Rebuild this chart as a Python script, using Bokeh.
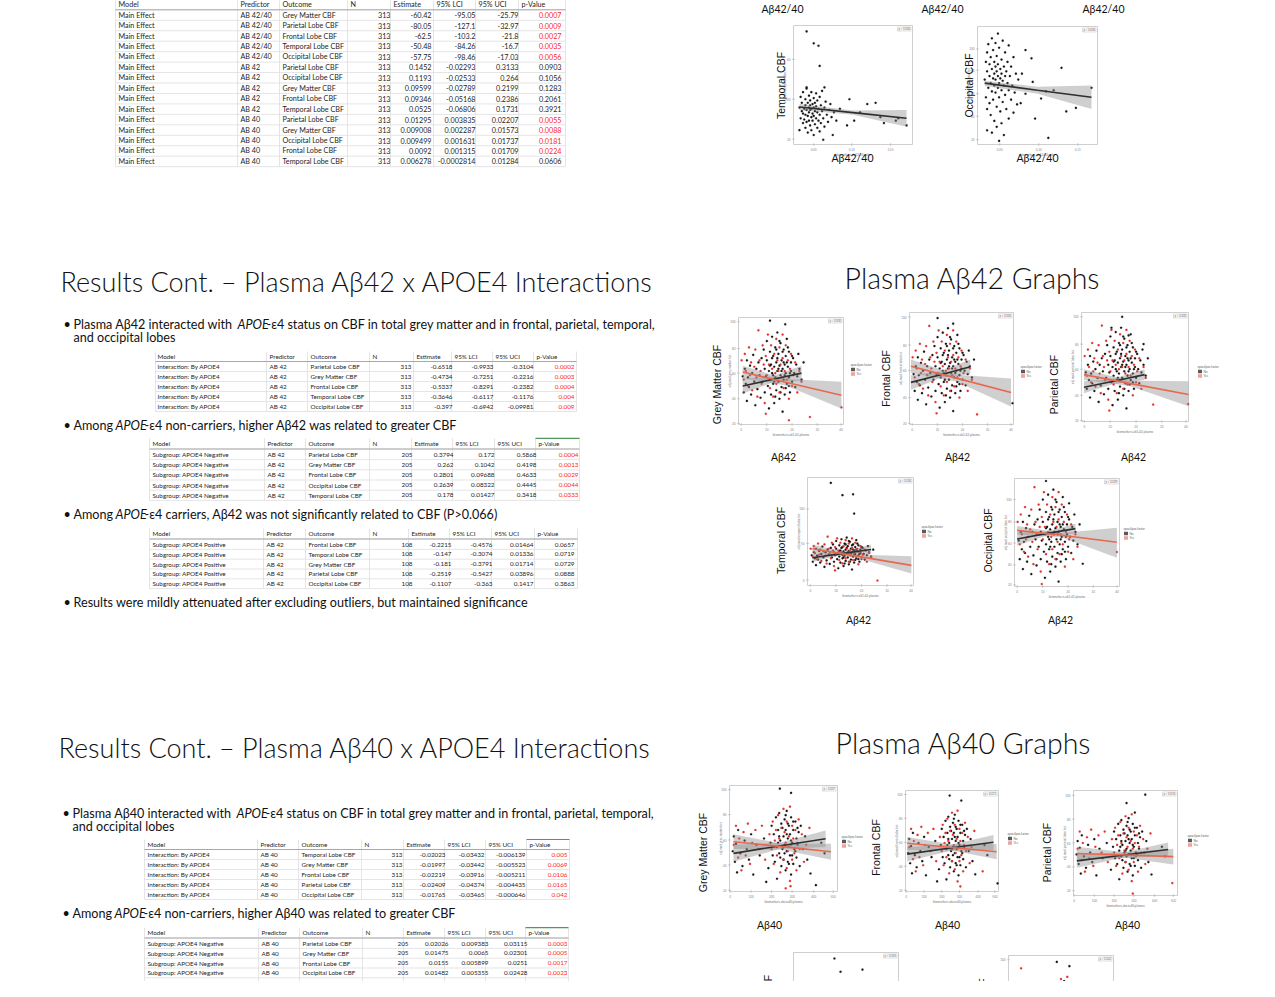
import math
from bokeh.plotting import figure
from bokeh.models import Range1d, ColumnDataSource
from bokeh.core.properties import value
from bokeh.embed import file_html
from bokeh.resources import INLINE

# ===================== TABLE DATA =====================
HEADERS = ["Model", "Predictor", "Outcome", "N", "Estimate", "95% LCI", "95% UCI", "p-Value"]

t1_model = ["Main Effect"] * 15
t1_pred = ["AB 42/40"] * 5 + ["AB 42"] * 5 + ["AB 40"] * 5
t1_outcome = ["Grey Matter CBF", "Parietal Lobe CBF", "Frontal Lobe CBF", "Temporal Lobe CBF", "Occipital Lobe CBF",
              "Parietal Lobe CBF", "Occipital Lobe CBF", "Grey Matter CBF", "Frontal Lobe CBF", "Temporal Lobe CBF",
              "Parietal Lobe CBF", "Grey Matter CBF", "Occipital Lobe CBF", "Frontal Lobe CBF", "Temporal Lobe CBF"]
t1_n = ["313"] * 15
t1_est = ["-60.42", "-80.05", "-62.5", "-50.48", "-57.75", "0.1452", "0.1193", "0.09599", "0.09346", "0.0525",
          "0.01295", "0.009008", "0.009499", "0.0092", "0.006278"]
t1_lci = ["-95.05", "-127.1", "-103.2", "-84.26", "-98.46", "-0.02293", "-0.02533", "-0.02789", "-0.05168", "-0.06806",
          "0.003835", "0.002287", "0.001631", "0.001315", "-0.0002814"]
t1_uci = ["-25.79", "-32.97", "-21.8", "-16.7", "-17.03", "0.3133", "0.264", "0.2199", "0.2386", "0.1731",
          "0.02207", "0.01573", "0.01737", "0.01709", "0.01284"]
t1_p = ["0.0007", "0.0009", "0.0027", "0.0035", "0.0056", "0.0903", "0.1056", "0.1283", "0.2061", "0.3921",
        "0.0055", "0.0088", "0.0181", "0.0224", "0.0606"]

t2_model = ["Interaction: By APOE4"] * 5
t2_pred = ["AB 42"] * 5
t2_outcome = ["Parietal Lobe CBF", "Grey Matter CBF", "Frontal Lobe CBF", "Temporal Lobe CBF", "Occipital Lobe CBF"]
t2_n = ["313"] * 5
t2_est = ["-0.6518", "-0.4734", "-0.5337", "-0.3646", "-0.397"]
t2_lci = ["-0.9933", "-0.7251", "-0.8291", "-0.6117", "-0.6942"]
t2_uci = ["-0.3104", "-0.2216", "-0.2382", "-0.1176", "-0.09981"]
t2_p = ["0.0002", "0.0003", "0.0004", "0.004", "0.009"]

t3_model = ["Subgroup: APOE4 Negative"] * 5
t3_pred = ["AB 42"] * 5
t3_outcome = ["Parietal Lobe CBF", "Grey Matter CBF", "Frontal Lobe CBF", "Occipital Lobe CBF", "Temporal Lobe CBF"]
t3_n = ["205"] * 5
t3_est = ["0.3794", "0.262", "0.2801", "0.2639", "0.178"]
t3_lci = ["0.172", "0.1042", "0.09688", "0.08322", "0.01427"]
t3_uci = ["0.5868", "0.4198", "0.4633", "0.4445", "0.3418"]
t3_p = ["0.0004", "0.0013", "0.0029", "0.0044", "0.0333"]

t4_model = ["Subgroup: APOE4 Positive"] * 5
t4_pred = ["AB 42"] * 5
t4_outcome = ["Frontal Lobe CBF", "Temporal Lobe CBF", "Grey Matter CBF", "Parietal Lobe CBF", "Occipital Lobe CBF"]
t4_n = ["108"] * 5
t4_est = ["-0.2215", "-0.147", "-0.181", "-0.2519", "-0.1107"]
t4_lci = ["-0.4576", "-0.3074", "-0.3791", "-0.5427", "-0.363"]
t4_uci = ["0.01464", "0.01336", "0.01714", "0.03896", "0.1417"]
t4_p = ["0.0657", "0.0719", "0.0729", "0.0888", "0.3863"]

t5_model = ["Interaction: By APOE4"] * 5
t5_pred = ["AB 40"] * 5
t5_outcome = ["Temporal Lobe CBF", "Grey Matter CBF", "Frontal Lobe CBF", "Parietal Lobe CBF", "Occipital Lobe CBF"]
t5_n = ["313"] * 5
t5_est = ["-0.02023", "-0.01997", "-0.02219", "-0.02409", "-0.01765"]
t5_lci = ["-0.03432", "-0.03442", "-0.03916", "-0.04374", "-0.03465"]
t5_uci = ["-0.006139", "-0.005523", "-0.005211", "-0.004435", "-0.000646"]
t5_p = ["0.005", "0.0069", "0.0106", "0.0165", "0.042"]

t6_model = ["Subgroup: APOE4 Negative"] * 5
t6_pred = ["AB 40"] * 5
t6_outcome = ["Parietal Lobe CBF", "Grey Matter CBF", "Frontal Lobe CBF", "Occipital Lobe CBF", "Temporal Lobe CBF"]
t6_n = ["205"] * 5
t6_est = ["0.02026", "0.01475", "0.0155", "0.01482", "0.01198"]
t6_lci = ["0.009383", "0.0065", "0.005899", "0.005355", "0.003446"]
t6_uci = ["0.03115", "0.02301", "0.0251", "0.02428", "0.02052"]
t6_p = ["0.0003", "0.0005", "0.0017", "0.0023", "0.0062"]

# ===================== SCATTER DATA (axis units: % of panel range) =====================
# Abeta42/40 - temporal
ta_x = [5,6,6,7,7,8,8,8,9,9,10,10,10,10,11,11,11,12,12,12,13,13,13,13,14,14,14,14,15,15,15,15,16,16,16,17,17,17,17,
        18,18,18,19,19,19,20,20,20,21,21,22,22,22,23,23,24,24,25,25,26,26,27,28,29,30,31,32,33,34,36,39,45,47,51,56,
        62,69,73,76,95,11,17,21,22,11,26,5,86,88]
ta_y = [31,22,40,28,35,18,26,44,30,21,33,14,38,25,29,19,47,35,24,10,31,27,20,41,33,16,29,37,23,30,12,44,26,34,20,31,8,39,24,
        28,17,35,22,32,43,27,14,37,30,20,25,40,11,33,18,28,45,22,4,31,15,36,25,19,29,34,23,8,27,20,30,16,38,20,27,
        34,35,23,18,16,95,85,83,66,48,48,12,20,22]
# Abeta42/40 - occipital
oa_x = [6,7,7,8,8,8,9,9,10,10,10,11,11,11,12,12,12,13,13,13,14,14,14,14,15,15,15,15,16,16,16,17,17,17,17,18,18,18,
        19,19,19,20,20,20,21,21,21,22,22,23,23,23,24,24,25,25,26,26,27,28,28,29,30,31,32,33,34,8,12,16,20,22,26,30,18,
        45,70,48,59,53,74,82,95,63.5,57,40,46,37,36,40]
oa_y = [55,70,40,62,30,78,48,85,58,35,68,52,25,74,64,45,90,56,38,80,60,50,70,20,66,44,86,55,62,32,75,58,48,94,68,52,40,82,
        64,56,28,72,46,60,54,88,36,66,50,58,42,78,62,30,52,70,46,84,58,38,66,50,74,44,60,34,55,12,10,15,18,8,22,27,3,
        73,65,22,5.6,39,28,31,48,46,45,43,53,60,35,80]

# Abeta42 - APOE4 No (black) / Yes (red)
a42_no_x = [4,5,6,7,8,8,9,10,11,12,13,14,15,16,17,18,19,20,21,22,23,24,25,25,26,27,27,28,29,29,30,30,31,31,32,32,33,33,
            34,34,35,35,36,36,37,37,38,38,39,39,40,40,41,41,42,42,43,43,44,44,45,45,46,46,47,48,48,49,50,50,51,52,53,54,
            55,56,57,58,60,62,30,32,34,36,38,40,42,44,46,48,33,37,41,45,47,35,39,43,49,51]
a42_no_y = [45,30,52,38,60,22,44,35,55,28,48,65,40,18,52,33,58,46,25,62,40,70,52,30,45,78,60,36,50,15,68,42,56,28,82,48,38,64,
            54,20,72,44,58,32,86,50,40,66,24,55,76,46,60,35,52,12,70,42,56,28,64,48,38,80,54,44,68,30,58,50,40,62,48,35,
            56,45,66,52,42,58,55,62,40,70,52,30,68,46,58,36,46,62,50,34,72,26,78,58,48,64]
a42_yes_x = [3,5,6,7,9,10,11,12,13,15,16,17,18,20,21,22,23,24,25,26,27,28,29,30,31,32,33,34,35,36,36,37,38,39,39,40,41,
             42,42,43,44,45,46,47,48,49,50,51,52,54,56,58,60,26,19]
a42_yes_y = [60,42,66,50,36,72,46,58,32,54,70,44,26,60,50,38,74,56,20,64,46,84,56,34,74,52,26,66,48,80,38,60,50,72,30,56,44,
             84,62,34,50,74,42,60,24,52,66,36,46,58,30,50,40,10,88]
# panel specific outliers (axis units of each panel)
gm42_out_no_x, gm42_out_no_y = [30, 44.5], [97, 93.6]
gm42_out_yes_x, gm42_out_yes_y = [98, 68, 48], [16, 7, 4]
fr42_out_no_x, fr42_out_no_y = [27, 42, 99], [95, 90, 19]
fr42_out_yes_x, fr42_out_yes_y = [65], [9]
pa42_out_no_x, pa42_out_no_y = [38, 28, 44, 58], [96, 86, 79, 71]
pa42_out_yes_x, pa42_out_yes_y = [67, 99.7], [15.5, 16]
te42_out_no_x, te42_out_no_y = [22, 33, 43, 44], [212.5, 184, 186, 141.5]
te42_out_yes_x, te42_out_yes_y = [66], [-13.5]
oc42_out_no_x, oc42_out_no_y = [65, 52, 30], [26.3, 75, 93]
oc42_out_yes_x, oc42_out_yes_y = [97.5], [35.8]

# Abeta40 - APOE4 No (black) / Yes (red)
a40_no_x = [3,4,5,6,7,8,10,12,14,16,18,20,22,25,28,32,36,38,39,40,41,42,43,44,44,45,46,46,47,48,48,49,50,50,51,51,52,52,
            53,53,54,54,55,55,56,56,57,57,58,59,59,60,61,62,62,63,64,65,66,68,70,72,75,85,88,45,47,49,51,53,55,57,59,61,
            63,50,54,58,46,52]
a40_no_y = [38,52,28,45,18,58,36,24,48,40,30,54,16,44,34,50,22,46,62,34,54,28,70,42,12,58,36,74,48,24,64,40,52,30,68,44,20,58,
            38,76,50,28,62,42,34,54,16,70,46,58,26,40,66,50,32,44,56,24,62,40,52,30,17,46,36,46,32,60,36,54,26,48,66,38,
            60,42,64,34,52,72]
a40_yes_x = [4,6,8,9,11,13,15,17,19,21,24,27,30,33,37,39,40,41,42,43,44,45,46,47,48,49,50,50,51,52,53,53,54,55,56,56,57,
             58,58,59,60,61,62,63,64,65,67,69,71,74]
a40_yes_y = [44,62,32,50,20,56,34,64,26,46,58,40,62,30,54,40,66,26,48,58,34,72,50,18,60,42,78,30,56,46,66,22,38,52,80,10,44,
             62,30,50,36,58,20,46,68,40,54,28,44,60]
gm40_out_no_x, gm40_out_no_y = [46.6, 57, 34, 80], [97, 93, 9, 6]
gm40_out_yes_x, gm40_out_yes_y = [56.5, 52], [5, 3]
fr40_out_no_x, fr40_out_no_y = [47.5, 60, 99, 34], [95, 90, 8, 10]
fr40_out_yes_x, fr40_out_yes_y = [59, 83], [5, 20]
pa40_out_no_x, pa40_out_no_y = [51, 69, 59], [91.8, 100.6, 81.9]
pa40_out_yes_x, pa40_out_yes_y = [57, 95], [-3, 8]
te40_out_no_x, te40_out_no_y = [39, 44.8, 65.7, 58], [211, 180, 185, 140]
te40_out_yes_x, te40_out_yes_y = [70], [-10]
oc40_out_no_x, oc40_out_no_y = [46, 58], [94, 90]
oc40_out_yes_x, oc40_out_yes_y = [12], [88]

# fitted lines with confidence bands (axis units)
fit_te4240 = dict(x=[5, 50, 95], y=[31.5, 26.75, 22], lo=[29, 25, 15], hi=[34, 28.5, 29])
fit_oc4240 = dict(x=[6, 50, 95], y=[52, 46, 40], lo=[49.6, 43, 30], hi=[54, 49, 50])
fit_gm42_no = dict(x=[4, 32, 60], y=[36, 42, 48], lo=[29, 39, 41], hi=[43, 45, 55])
fit_gm42_yes = dict(x=[4, 45, 98], y=[49, 39.5, 27.4], lo=[43, 36.5, 15], hi=[55, 42.5, 40])
fit_fr42_no = dict(x=[1.4, 30, 58.5], y=[37.6, 44.5, 51.5], lo=[31, 41.5, 45], hi=[44, 47.5, 58])
fit_fr42_yes = dict(x=[1.4, 45, 97.6], y=[52, 41.4, 28.5], lo=[46, 38.5, 16], hi=[58, 44.5, 41])
fit_pa42_no = dict(x=[2.3, 30, 59], y=[31.5, 37, 43], lo=[26, 34.5, 38], hi=[37, 39.5, 48])
fit_pa42_yes = dict(x=[2.3, 45, 100], y=[43, 35, 24.8], lo=[38, 32.5, 14], hi=[48, 37.5, 37])
fit_te42_no = dict(x=[4.7, 32, 60], y=[39.25, 48.75, 58.5], lo=[30, 45.5, 47.5], hi=[48.75, 52, 70])
fit_te42_yes = dict(x=[4.7, 45, 98], y=[60, 43.5, 21.5], lo=[50, 40, 2.5], hi=[70, 47, 42.5])
fit_oc42_no = dict(x=[2.5, 30, 58], y=[46.3, 50.6, 54.6], lo=[41.1, 48.9, 50.6], hi=[51.5, 52.4, 58.5])
fit_oc42_yes = dict(x=[2.5, 45, 97.5], y=[53.2, 49.3, 43.7], lo=[49.8, 47.6, 31.1], hi=[56.7, 51.1, 55.4])
fit_gm40_no = dict(x=[3.7, 46, 89], y=[36, 43, 49.8], lo=[28, 40, 42], hi=[44, 46, 57.6])
fit_gm40_yes = dict(x=[3.7, 49, 94], y=[47, 42.3, 37.5], lo=[40, 39.5, 30], hi=[54, 45, 45])
fit_fr40_no = dict(x=[1.8, 48, 94.6], y=[37, 43, 48.7], lo=[30, 40, 41], hi=[44, 46, 56])
fit_fr40_yes = dict(x=[1.8, 50, 98], y=[47.7, 43.5, 39.4], lo=[41, 40.5, 32], hi=[54, 46.5, 47])
fit_pa40_no = dict(x=[3.2, 47, 91], y=[31.3, 37.2, 43.2], lo=[24, 34.5, 36], hi=[38.5, 40, 50.5])
fit_pa40_yes = dict(x=[3.2, 50, 96], y=[39, 37.4, 35.7], lo=[32, 34.5, 27.5], hi=[46, 40.3, 44])
fit_te40_no = dict(x=[4, 46, 89], y=[45, 55, 65], lo=[30, 50, 50], hi=[60, 60, 80])
fit_te40_yes = dict(x=[4, 49, 94], y=[62, 52, 40], lo=[48, 47, 22], hi=[76, 57, 58])
fit_oc40_no = dict(x=[4, 46, 89], y=[40, 46, 52], lo=[32, 43, 44], hi=[48, 49, 60])
fit_oc40_yes = dict(x=[4, 49, 94], y=[50, 46, 42], lo=[43, 43, 34], hi=[57, 49, 50])

# axis ticks (axis units) and their labels
xt_4240, xl_4240 = [17, 49, 81.6], ["0.05", "0.10", "0.15"]
yt_4240, yl_4240 = [4.5, 38, 71.5], ["20", "40", "60"]
xt_42, xl_42 = [2.6, 26.8, 51, 75, 97.7], ["0", "10", "20", "30", "40"]
yt_42, yl_42 = [1, 24, 48, 71, 96], ["20", "40", "60", "80", "100"]
xt_40, xl_40 = [0.6, 20, 39, 58, 78, 96], ["0", "100", "200", "300", "400", "500"]
yt_40, yl_40 = [1.3, 25, 48.6, 72.5, 96], ["20", "40", "60", "80", "100"]

# ===================== FIGURE =====================
X0, X1, Y0, Y1 = 0, 1259, 0, 981
p = figure(width=1259, height=981, x_range=Range1d(X0, X1), y_range=Range1d(Y1, Y0),
           x_axis_location=None, y_axis_location=None, output_backend="svg",
           toolbar_location=None, min_border=0, outline_line_color=None)
p.grid.visible = False
p.background_fill_color = "white"

INK = "#1e1e1e"
RED = "#ff1f1f"
TITLE_FONT = "'Lato Light', Lato"


def texts(xs, ys, ss, size, color=INK, align="left", font="Lato", style="normal",
          baseline="middle", angle=0.0, **kw):
    src = ColumnDataSource(dict(x=list(xs), y=list(ys), t=list(ss)))
    p.text(x="x", y="y", text="t", source=src, text_font=value(font), text_font_size=f"{size}px",
           text_color=color, text_align=align, text_baseline=baseline, text_font_style=style,
           angle=angle, **kw)


def draw_table(left, right, hy, r0, step, cols, ends, size, cells, green=False):
    model, pred, outc, n, est, lci, uci, pv = cells
    nr = len(model)
    ys = [r0 + i * step for i in range(nr)]
    top = hy - step / 2
    bot = ys[-1] + step / 2
    hx, hyy = [], []
    for yb in [(hy + r0) / 2] + [y + step / 2 for y in ys]:
        hx.append([left, right]); hyy.append([yb, yb])
    vx, vy = [], []
    for cx in [left] + [c - 3 for c in cols[1:]] + [right]:
        vx.append([cx, cx]); vy.append([top, bot])
    p.multi_line(xs=vx + hx, ys=vy + hyy, line_color="#dedede", line_width=0.8)
    p.multi_line(xs=[[left, right]], ys=[[(hy + r0) / 2, (hy + r0) / 2]], line_color="#a8a8a8", line_width=1)
    if green:
        p.multi_line(xs=[[cols[7] - 3, right]], ys=[[top, top]], line_color="#4f9a5a", line_width=1.2)
    texts(cols, [hy] * 8, HEADERS, size)
    texts([cols[0]] * nr + [cols[1]] * nr + [cols[2]] * nr, ys * 3, model + pred + outc, size)
    texts([ends[0]] * nr + [ends[1]] * nr + [ends[2]] * nr + [ends[3]] * nr, ys * 4,
          n + est + lci + uci, size, align="right")
    pcol = [RED if float(v) < 0.05 else INK for v in pv]
    src = ColumnDataSource(dict(x=[ends[4]] * nr, y=ys, t=pv, c=pcol))
    p.text(x="x", y="y", text="t", source=src, text_font=value("Lato"), text_font_size=f"{size}px",
           text_color="c", text_align="right", text_baseline="middle")


# ---------------- tables ----------------
draw_table(115, 565, 4, 14.6, 10.45, [118, 240, 282, 350, 393, 436, 478, 521], [390, 431, 475, 518, 561], 7.2,
           (t1_model, t1_pred, t1_outcome, t1_n, t1_est, t1_lci, t1_uci, t1_p))
draw_table(155, 576, 356, 366, 10.0, [157, 269, 310, 372, 416, 454, 495, 536], [411, 452, 493, 533, 574], 6.3,
           (t2_model, t2_pred, t2_outcome, t2_n, t2_est, t2_lci, t2_uci, t2_p))
draw_table(149, 579, 443, 454, 10.2, [152, 267, 308, 372, 414, 455, 497, 538], [412, 453, 494, 536, 578], 6.3,
           (t3_model, t3_pred, t3_outcome, t3_n, t3_est, t3_lci, t3_uci, t3_p), green=True)
draw_table(149, 577, 533, 544, 9.8, [152, 266, 308, 372, 411, 452, 494, 537], [412, 451, 492, 533, 574], 6.3,
           (t4_model, t4_pred, t4_outcome, t4_n, t4_est, t4_lci, t4_uci, t4_p))
draw_table(144, 569, 844, 854, 10.0, [147, 260, 301, 364, 406, 447, 488, 529], [402, 445, 484, 525, 567], 6.3,
           (t5_model, t5_pred, t5_outcome, t5_n, t5_est, t5_lci, t5_uci, t5_p), green=True)
draw_table(144, 568, 932, 943, 9.8, [147, 261, 302, 365, 406, 447, 488, 528], [408, 448, 488, 527, 567], 6.3,
           (t6_model, t6_pred, t6_outcome, t6_n, t6_est, t6_lci, t6_uci, t6_p), green=True)

# ---------------- titles & bullets ----------------
texts([60], [281], ["Results Cont. \u2013 Plasma A\u03b242 x APOE4 Interactions"], 27, color="#111", font=TITLE_FONT)
texts([58], [747], ["Results Cont. \u2013 Plasma A\u03b240 x APOE4 Interactions"], 27, color="#111", font=TITLE_FONT)
texts([972], [277], ["Plasma A\u03b242 Graphs"], 28.5, color="#111", font=TITLE_FONT, align="center")
texts([963], [742], ["Plasma A\u03b240 Graphs"], 28.5, color="#111", font=TITLE_FONT, align="center")

BS = 12.6


def bullet(xb, y, segs):
    texts([xb - 10], [y], ["\u2022"], BS, color="#111")
    for (x, s, st) in segs:
        texts([x], [y], [s], BS, color="#111", style=st)


bullet(73, 324, [(73, "Plasma A\u03b242 interacted with ", "normal"), (237, "APOE", "italic"),
                 (266, "-\u03b54 status on CBF in total grey matter and in frontal, parietal, temporal,", "normal")])
texts([73], [337], ["and occipital lobes"], BS, color="#111")
bullet(73, 425, [(73, "Among ", "normal"), (115, "APOE", "italic"),
                 (144, "-\u03b54 non-carriers, higher A\u03b242 was related to greater CBF", "normal")])
bullet(73, 514, [(73, "Among ", "normal"), (115, "APOE", "italic"),
                 (144, "-\u03b54 carriers, A\u03b242 was not significantly related to CBF (P>0.066)", "normal")])
bullet(73, 602, [(73, "Results were mildly attenuated after excluding outliers, but maintained significance", "normal")])
bullet(72, 813, [(72, "Plasma A\u03b240 interacted with ", "normal"), (236, "APOE", "italic"),
                 (265, "-\u03b54 status on CBF in total grey matter and in frontal, parietal, temporal,", "normal")])
texts([72], [826], ["and occipital lobes"], BS, color="#111")
bullet(72, 913, [(72, "Among ", "normal"), (114, "APOE", "italic"),
                 (143, "-\u03b54 non-carriers, higher A\u03b240 was related to greater CBF", "normal")])
bullet(72, 1000, [(72, "Among ", "normal"), (114, "APOE", "italic"),
                  (143, "-\u03b54 carriers, A\u03b240 was not significantly related to CBF (P>0.05)", "normal")])

# ---------------- panels ----------------
xr, yr = {}, {}
BLACK_PT = "#151515"
RED_PT = "#e0302a"
NO_LINE = "#2f2f2f"
YES_LINE = "#e8684f"


def panel(key, box, ylim, xt, xl, yt, yl, clouds, fits, ptxt, ytitle, xtitle):
    L, R, T, B = box
    xlim = (0, 100)
    sx = (xlim[1] - xlim[0]) / (R - L)
    xr[key] = Range1d(xlim[0] - (L - X0) * sx, xlim[1] + (X1 - R) * sx)
    sy = (ylim[1] - ylim[0]) / (B - T)
    yr[key] = Range1d(ylim[0] - (Y1 - B) * sy, ylim[1] + (T - Y0) * sy)
    kw = dict(x_range_name=key, y_range_name=key)
    p.quad(left=[xlim[0]], right=[xlim[1]], bottom=[ylim[0]], top=[ylim[1]], fill_color="white",
           line_color="#c9c9c9", line_width=0.9, **kw)
    p.scatter(x=[xlim[0]] * len(yt), y=yt, marker="dash", size=3, line_color="#b0b0b0", line_width=0.6, **kw)
    p.scatter(x=xt, y=[ylim[0]] * len(xt), marker="dash", angle=math.pi / 2, size=3, line_color="#b0b0b0",
              line_width=0.6, **kw)
    texts([xlim[0]] * len(yt), yt, yl, 3, color="#8a8a8a", align="right", x_offset=-3, **kw)
    texts(xt, [ylim[0]] * len(xt), xl, 3, color="#8a8a8a", align="center", baseline="top", y_offset=3, **kw)
    texts([xlim[0]], [(ylim[0] + ylim[1]) / 2], [ytitle], 3.2, color="#777", align="center",
          angle=math.pi / 2, x_offset=-9, **kw)
    texts([50], [ylim[0]], [xtitle], 3.2, color="#777", align="center", baseline="top", y_offset=8, **kw)
    for xs, ys, c in clouds:
        p.scatter(x=xs, y=ys, size=2.2, fill_color=c, line_color=c, line_width=0.2, **kw)
    for f, c in fits:
        p.varea(x=f["x"], y1=f["lo"], y2=f["hi"], fill_color="#8c8c8c", fill_alpha=0.42, **kw)
    for f, c in fits:
        p.line(x=f["x"], y=f["y"], line_color=c, line_width=1.6, **kw)
    p.quad(left=[R - 15], right=[R - 1.5], top=[T + 1.5], bottom=[T + 5.5], fill_color="white",
           line_color="#bdbdbd", line_width=0.5)
    texts([R - 8.2], [T + 3.5], [ptxt], 2.8, color="#666", align="center")


def legend(lx, ly):
    texts([lx], [ly], ["apoe4pos.factor"], 3, color="#666")
    p.rect(x=[lx + 2.5, lx + 2.5], y=[ly + 5, ly + 9.5], width=4, height=3.5,
           fill_color=["#5a5a5a", "#f0a198"], line_color=None)
    texts([lx + 6, lx + 6], [ly + 5, ly + 9.5], ["No", "Yes"], 3, color="#666")


def big_ylabel(x, y, s):
    texts([x], [y], [s], 10.5, color="#111", font="Liberation Sans", align="center", angle=math.pi / 2)


# Abeta42/40 row (top)
panel("a_te", (793, 912, 25, 144), (0, 100), xt_4240, xl_4240, yt_4240, yl_4240,
      [(ta_x, ta_y, BLACK_PT)], [(fit_te4240, NO_LINE)], "p = 0.004",
      "adj.mod.temporal.lobe.hct", "biomarkers.ab42.40.ratio")
panel("a_oc", (977, 1097, 26, 144), (0, 100), [18.6, 51, 83.6], xl_4240, [4, 24, 43, 63, 81],
      ["20", "40", "60", "80", "100"], [(oa_x, oa_y, BLACK_PT)], [(fit_oc4240, NO_LINE)], "p = 0.006",
      "adj.mod.occipital.lobe.hct", "biomarkers.ab42.40.ratio")
big_ylabel(780, 85, "Temporal CBF")
big_ylabel(968, 85, "Occipital CBF")
for x_, y_ in [(782, 8), (942, 8), (1103, 8), (852, 157), (1037, 157)]:
    texts([x_], [y_], ["A\u03b242/40"], 10.5, color="#111", align="center")

# Abeta42 panels
X42 = "biomarkers.ab1.42.plasma"
panel("b_gm", (738, 843, 317, 424), (0, 100), xt_42, xl_42, yt_42, yl_42,
      [(a42_no_x, a42_no_y, BLACK_PT), (a42_yes_x, a42_yes_y, RED_PT),
       (gm42_out_no_x, gm42_out_no_y, BLACK_PT), (gm42_out_yes_x, gm42_out_yes_y, RED_PT)],
      [(fit_gm42_no, NO_LINE), (fit_gm42_yes, YES_LINE)], "p = 0.000", "adj.mod.grey.matter.hct", X42)
panel("b_fr", (909, 1013, 312, 424), (0, 100), xt_42, xl_42, yt_42, yl_42,
      [(a42_no_x, a42_no_y, BLACK_PT), (a42_yes_x, a42_yes_y, RED_PT),
       (fr42_out_no_x, fr42_out_no_y, BLACK_PT), (fr42_out_yes_x, fr42_out_yes_y, RED_PT)],
      [(fit_fr42_no, NO_LINE), (fit_fr42_yes, YES_LINE)], "p = 0.000", "adj.mod.frontal.lobe.hct", X42)
panel("b_pa", (1081, 1188, 312, 421), (0, 100), xt_42, xl_42, yt_42, yl_42,
      [(a42_no_x, a42_no_y, BLACK_PT), (a42_yes_x, a42_yes_y, RED_PT),
       (pa42_out_no_x, pa42_out_no_y, BLACK_PT), (pa42_out_yes_x, pa42_out_yes_y, RED_PT)],
      [(fit_pa42_no, NO_LINE), (fit_pa42_yes, YES_LINE)], "p = 0.000", "adj.mod.parietal.lobe.hct", X42)
panel("b_te", (807, 913, 477, 585), (-25, 225), xt_42, xl_42, [-12.5, 72.5, 152.5], ["0", "50", "100"],
      [(a42_no_x, a42_no_y, BLACK_PT), (a42_yes_x, a42_yes_y, RED_PT),
       (te42_out_no_x, te42_out_no_y, BLACK_PT), (te42_out_yes_x, te42_out_yes_y, RED_PT)],
      [(fit_te42_no, NO_LINE), (fit_te42_yes, YES_LINE)], "p = 0.004", "adj.mod.temporal.lobe.hct", X42)
panel("b_oc", (1014, 1119, 478, 586), (8, 95), xt_42, xl_42, [9.3, 25.4, 43, 60, 78],
      ["20", "40", "60", "80", "100"],
      [(a42_no_x, a42_no_y, BLACK_PT), (a42_yes_x, a42_yes_y, RED_PT),
       (oc42_out_no_x, oc42_out_no_y, BLACK_PT), (oc42_out_yes_x, oc42_out_yes_y, RED_PT)],
      [(fit_oc42_no, NO_LINE), (fit_oc42_yes, YES_LINE)], "p = 0.009", "adj.mod.occipital.lobe.hct", X42)
for lx, ly in [(850, 364), (1020, 366), (1197, 366), (921, 526), (1123, 528)]:
    legend(lx, ly)
big_ylabel(716, 384, "Grey Matter CBF")
big_ylabel(885, 378, "Frontal CBF")
big_ylabel(1053, 384, "Parietal CBF")
big_ylabel(780, 540, "Temporal CBF")
big_ylabel(987, 540, "Occipital CBF")
for x_, y_ in [(783, 456), (957, 456), (1133, 456), (858, 619), (1060, 619)]:
    texts([x_], [y_], ["A\u03b242"], 10.5, color="#111", align="center")

# Abeta40 panels
X40 = "biomarkers.abeta40.plasma"
panel("c_gm", (729, 837, 785, 891), (0, 100), xt_40, xl_40, yt_40, yl_40,
      [(a40_no_x, a40_no_y, BLACK_PT), (a40_yes_x, a40_yes_y, RED_PT),
       (gm40_out_no_x, gm40_out_no_y, BLACK_PT), (gm40_out_yes_x, gm40_out_yes_y, RED_PT)],
      [(fit_gm40_no, NO_LINE), (fit_gm40_yes, YES_LINE)], "p = 0.007", "adj.mod.grey.matter.hct", X40)
panel("c_fr", (905, 998, 790, 891), (0, 100), xt_40, xl_40, yt_40, yl_40,
      [(a40_no_x, a40_no_y, BLACK_PT), (a40_yes_x, a40_yes_y, RED_PT),
       (fr40_out_no_x, fr40_out_no_y, BLACK_PT), (fr40_out_yes_x, fr40_out_yes_y, RED_PT)],
      [(fit_fr40_no, NO_LINE), (fit_fr40_yes, YES_LINE)], "p = 0.011", "adj.mod.frontal.lobe.hct", X40)
panel("c_pa", (1073, 1177, 790, 895), (-5, 105), xt_40, xl_40, [0, 25, 50, 75, 100], yl_40,
      [(a40_no_x, a40_no_y, BLACK_PT), (a40_yes_x, a40_yes_y, RED_PT),
       (pa40_out_no_x, pa40_out_no_y, BLACK_PT), (pa40_out_yes_x, pa40_out_yes_y, RED_PT)],
      [(fit_pa40_no, NO_LINE), (fit_pa40_yes, YES_LINE)], "p = 0.016", "adj.mod.parietal.lobe.hct", X40)
panel("c_te", (793, 898, 952, 1059), (-25, 225), xt_40, xl_40, [-12.5, 72.5, 152.5], ["0", "50", "100"],
      [(a40_no_x, a40_no_y, BLACK_PT), (a40_yes_x, a40_yes_y, RED_PT),
       (te40_out_no_x, te40_out_no_y, BLACK_PT), (te40_out_yes_x, te40_out_yes_y, RED_PT)],
      [(fit_te40_no, NO_LINE), (fit_te40_yes, YES_LINE)], "p = 0.005", "adj.mod.temporal.lobe.hct", X40)
panel("c_oc", (1008, 1113, 955, 1062), (0, 100), xt_40, xl_40, yt_40, yl_40,
      [(a40_no_x, a40_no_y, BLACK_PT), (a40_yes_x, a40_yes_y, RED_PT),
       (oc40_out_no_x, oc40_out_no_y, BLACK_PT), (oc40_out_yes_x, oc40_out_yes_y, RED_PT)],
      [(fit_oc40_no, NO_LINE), (fit_oc40_yes, YES_LINE)], "p = 0.042", "adj.mod.occipital.lobe.hct", X40)
for lx, ly in [(841, 836), (1007, 833), (1187, 835)]:
    legend(lx, ly)
big_ylabel(702, 852, "Grey Matter CBF")
big_ylabel(875, 847, "Frontal CBF")
big_ylabel(1046, 852, "Parietal CBF")
big_ylabel(767, 1008, "Temporal CBF")
big_ylabel(982, 1010, "Occipital CBF")
for x_, y_ in [(769, 924), (947, 924), (1127, 924)]:
    texts([x_], [y_], ["A\u03b240"], 10.5, color="#111", align="center")

p.extra_x_ranges = xr
p.extra_y_ranges = yr

open("out.html", "w").write(file_html(p, INLINE))
